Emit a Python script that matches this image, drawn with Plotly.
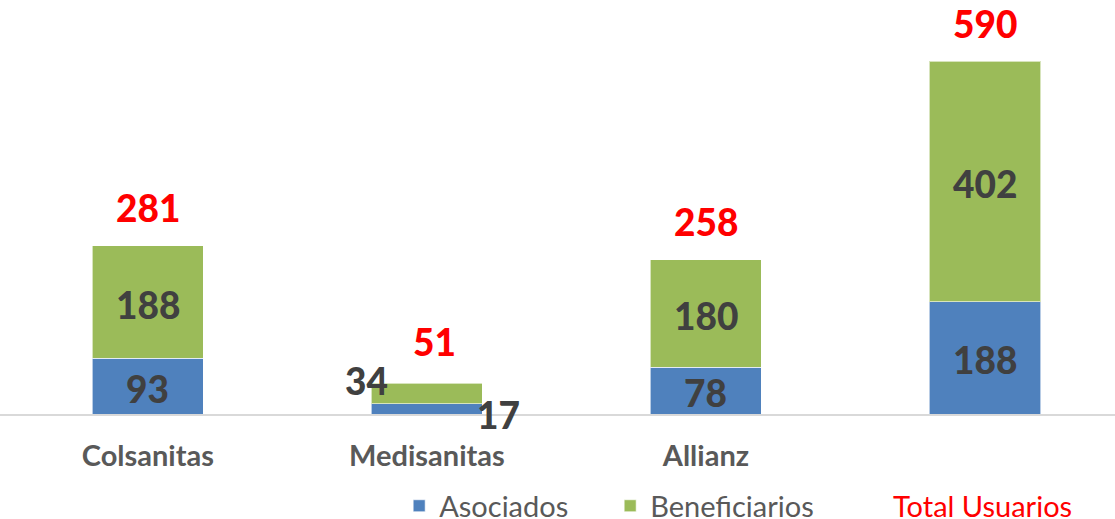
import plotly.graph_objects as go

categories = ["Colsanitas", "Medisanitas", "Allianz", "Total Usuarios"]
tick_labels = ["Colsanitas", "Medisanitas", "Allianz", ""]
asociados = [93, 17, 78, 188]
beneficiarios = [188, 34, 180, 402]
totales = [281, 51, 258, 590]

BLUE = "#4F81BD"
GREEN = "#9BBB59"
RED = "#FF0000"
DARK = "#404040"
GRAY = "#595959"
FONT = "Lato"

x = list(range(len(categories)))

fig = go.Figure()
fig.add_trace(go.Bar(x=x, y=asociados, name="Asociados", legend="legend",
                     marker=dict(color=BLUE, line=dict(color="rgba(255,255,255,0.6)", width=1)), hoverinfo="skip"))
fig.add_trace(go.Bar(x=x, y=beneficiarios, name="Beneficiarios", legend="legend",
                     marker=dict(color=GREEN, line=dict(color="rgba(255,255,255,0.6)", width=1)), hoverinfo="skip"))
fig.add_trace(go.Scatter(x=x, y=totales, mode="lines", name="Total Usuarios", legend="legend2",
                         line=dict(color="rgba(0,0,0,0)", width=0), hoverinfo="skip"))

annotations = []
seg_font = dict(family=FONT, size=37, color=DARK, weight=900)
tot_font = dict(family=FONT, size=37, color=RED, weight=900)
for i in x:
    a, b, t = asociados[i], beneficiarios[i], totales[i]
    if categories[i] == "Medisanitas":
        annotations.append(dict(x=i, y=a / 2, text=f"{a}", showarrow=False, font=seg_font, xshift=72, yshift=-6))
        annotations.append(dict(x=i, y=a + b / 2, text=f"{b}", showarrow=False, font=seg_font, xshift=-60, yshift=13))
        annotations.append(dict(x=i, y=t, text=f"{t}", showarrow=False, font=tot_font, xshift=8, yshift=42))
    else:
        annotations.append(dict(x=i, y=a / 2, text=f"{a}", showarrow=False, font=seg_font, yshift=-2))
        annotations.append(dict(x=i, y=a + b / 2, text=f"{b}", showarrow=False, font=seg_font, yshift=-2))
        annotations.append(dict(x=i, y=t, text=f"{t}", showarrow=False, font=tot_font, yshift=38))

fig.update_layout(
    barmode="stack",
    bargap=0.602,
    width=1115,
    height=519,
    margin=dict(l=0, r=0, t=0, b=105, autoexpand=False),
    paper_bgcolor="white",
    plot_bgcolor="white",
    font=dict(family=FONT, color=GRAY),
    showlegend=True,
    legend=dict(orientation="h", x=0.358, xanchor="left", y=-0.222, yanchor="middle", traceorder="normal",
                entrywidth=166, entrywidthmode="pixels",
                font=dict(family=FONT, size=29, color=GRAY), bgcolor="rgba(0,0,0,0)"),
    legend2=dict(orientation="h", x=(895 - 42) / 1115, xanchor="left", y=-0.222, yanchor="middle",
                 font=dict(family=FONT, size=29, color=RED), bgcolor="rgba(0,0,0,0)"),
    annotations=annotations,
    xaxis=dict(range=[-0.53, 3.466], tickmode="array", tickvals=x, ticktext=tick_labels,
               tickfont=dict(family=FONT, size=29, color=GRAY, weight="bold"), ticks="", ticklabelstandoff=15,
               automargin=False,
               showline=True, linecolor="#D9D9D9", linewidth=1.5, showgrid=False, zeroline=False, fixedrange=True),
    yaxis=dict(range=[0, 692], visible=False, automargin=False, showgrid=False, zeroline=False, fixedrange=True),
)

fig.write_html("out.html", config={"displayModeBar": False}, post_script="document.body.style.margin='0';")
